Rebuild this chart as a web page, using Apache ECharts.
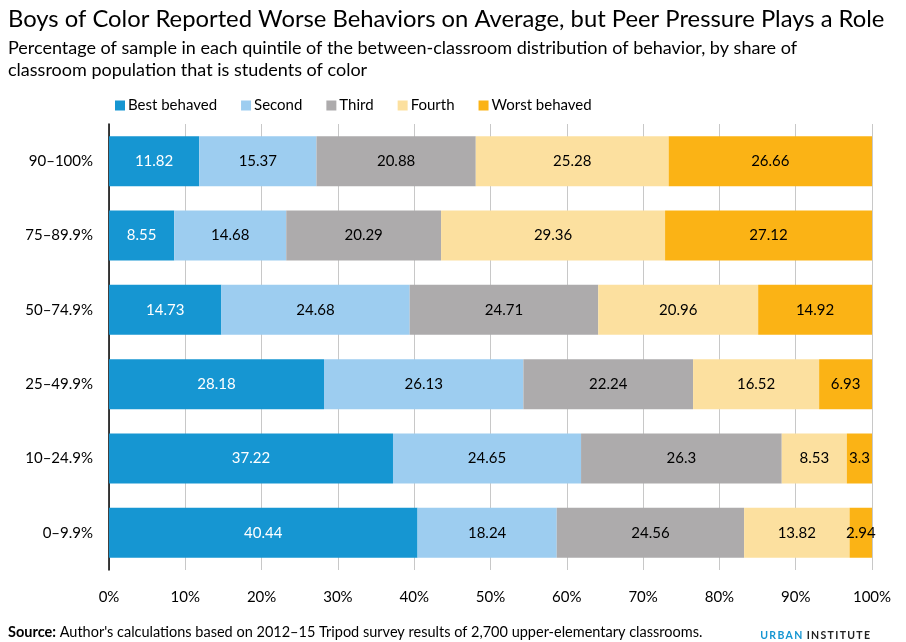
<!DOCTYPE html>
<html>
<head>
<meta charset="utf-8">
<script src="https://cdn.jsdelivr.net/npm/echarts@6/dist/echarts.min.js"></script>
<style>
	html, body { margin: 0; padding: 0; background: #fff; }
	#chart { width: 906px; height: 642px; }
</style>
</head>
<body>
<div id="chart"></div>
<script type="text/javascript">
	// 学生类别（从下到上）
	var categories = ['0–9.9%', '10–24.9%', '25–49.9%', '50–74.9%', '75–89.9%', '90–100%'];
	var bestBehaved = [40.44, 37.22, 28.18, 14.73, 8.55, 11.82];
	var second = [18.24, 24.65, 26.13, 24.68, 14.68, 15.37];
	var third = [24.56, 26.3, 22.24, 24.71, 20.29, 20.88];
	var fourth = [13.82, 8.53, 16.52, 20.96, 29.36, 25.28];
	var worstBehaved = [2.94, 3.3, 6.93, 14.92, 27.12, 26.66];
	var xTicks = [0, 10, 20, 30, 40, 50, 60, 70, 80, 90, 100];

	var font = 'Lato, "Open Sans", sans-serif';
	var myChart = echarts.init(document.getElementById('chart'));

	// 字母间加细空格，模拟字距
	function spaced(s) {
		return s.split('').join('\u200A\u200A');
	}

	function makeSeries(name, data, color, textColor) {
		return {
			name: name,
			type: 'bar',
			stack: 'total',
			data: data,
			barWidth: 50,
			itemStyle: { color: color },
			label: {
				show: true,
				position: 'inside',
				color: textColor,
				fontFamily: font,
				fontSize: 15
			}
		};
	}

	var option = {
		animation: false,
		textStyle: { fontFamily: font },
		title: [
			{
				text: 'Boys of Color Reported Worse Behaviors on Average, but Peer Pressure Plays a Role',
				left: 8, top: 7, padding: 0,
				textStyle: { fontFamily: font, fontSize: 23.8, fontWeight: 'normal', color: '#000' }
			},
			{
				text: 'Percentage of sample in each quintile of the between-classroom distribution of behavior, by share of\nclassroom population that is students of color',
				left: 8, top: 37, padding: 0,
				textStyle: { fontFamily: font, fontSize: 18, fontWeight: 'normal', color: '#000', lineHeight: 22 }
			},
			{
				text: '{b|Source:} Author\'s calculations based on 2012–15 Tripod survey results of 2,700 upper-elementary classrooms.',
				left: 8, top: 625, padding: 0,
				textStyle: {
					fontFamily: font, fontSize: 14.5, fontWeight: 'normal', color: '#000',
					rich: { b: { fontFamily: font, fontSize: 14.5, fontWeight: 'bold', color: '#000' } }
				}
			},
			{
				text: '{u|' + spaced('URBAN') + '} {i|' + spaced('INSTITUTE') + '}',
				right: 36, top: 627, padding: 0,
				textStyle: {
					rich: {
						u: { fontFamily: font, fontSize: 10.5, fontWeight: 'bold', color: '#1696d2' },
						i: { fontFamily: font, fontSize: 10.5, fontWeight: 'bold', color: '#222' }
					}
				}
			}
		],
		legend: {
			left: 110, top: 93,
			itemWidth: 10, itemHeight: 10,
			itemGap: 24,
			icon: 'rect',
			textStyle: { fontFamily: font, fontSize: 15, color: '#000', padding: [0, 0, 0, -2] },
			data: ['Best behaved', 'Second', 'Third', 'Fourth', 'Worst behaved']
		},
		grid: { left: 109, right: 34, top: 124, bottom: 72, containLabel: false },
		xAxis: {
			type: 'value',
			min: 0, max: 100, interval: 10,
			axisLine: { show: false },
			axisTick: { show: false },
			splitLine: { show: true, lineStyle: { color: '#c8c8c8', width: 1 } },
			axisLabel: {
				margin: 20,
				fontFamily: font, fontSize: 15, color: '#000',
				formatter: function (v) { return xTicks.indexOf(v) >= 0 ? v + '%' : ''; }
			}
		},
		yAxis: {
			type: 'category',
			data: categories,
			axisLine: { show: true, lineStyle: { color: '#000', width: 1.5 } },
			axisTick: { show: false },
			axisLabel: { margin: 16, fontFamily: font, fontSize: 15, color: '#000' }
		},
		series: [
			makeSeries('Best behaved', bestBehaved, '#1696d2', '#fff'),
			makeSeries('Second', second, '#9dcdf0', '#000'),
			makeSeries('Third', third, '#adabac', '#000'),
			makeSeries('Fourth', fourth, '#fce09f', '#000'),
			makeSeries('Worst behaved', worstBehaved, '#fbb315', '#000')
		]
	};

	myChart.setOption(option);
</script>
</body>
</html>
